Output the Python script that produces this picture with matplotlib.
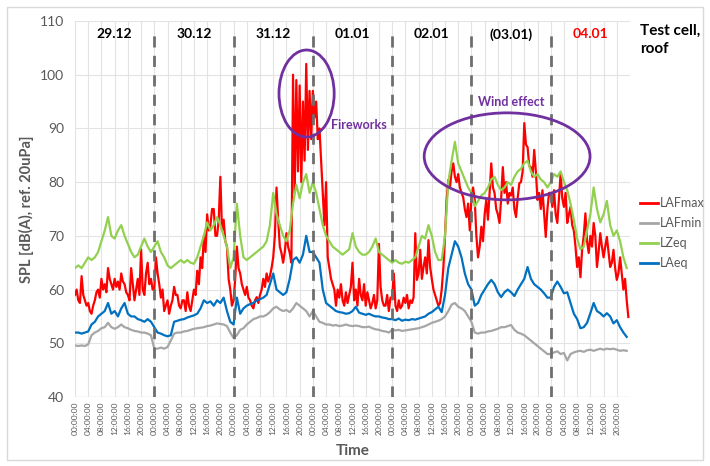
import numpy as np
import matplotlib
matplotlib.use("Agg")
import matplotlib.pyplot as plt
from matplotlib.patches import Ellipse, Rectangle
from matplotlib.lines import Line2D

plt.rcParams['font.family'] = ['Lato', 'DejaVu Sans']

# ---------------- data ----------------
days = ["29.12", "30.12", "31.12", "01.01", "02.01", "(03.01)", "04.01"]
tick_labels = ["00:00:00", "04:00:00", "08:00:00", "12:00:00", "16:00:00", "20:00:00"] * 7
series_names = ["LAFmax", "LAFmin", "LZeq", "LAeq"]

# LAFmax, 30-minute values (48 per day)
lafmax_d1 = [59, 60, 58, 57.5, 62.5, 59, 58, 57, 57.5, 56, 55.5, 57, 58, 59.5, 60, 58.5, 62, 60, 61, 59.5,
             64, 62, 61, 60, 62, 60.5, 61.5, 60, 63, 61.5, 61, 59.5, 59, 58, 64, 61, 58, 60, 62, 59,
             67.5, 60, 59, 63, 65, 61, 62, 60]
lafmax_d2 = [60, 66, 63, 61, 58.5, 60, 56, 57, 58, 55.5, 57, 58, 60.5, 59, 59, 57, 56.5, 58, 58, 56,
             59.5, 57, 56, 58, 60, 59, 63.5, 61, 66, 64, 70, 67, 74, 71, 72, 75, 75, 70, 70, 73,
             81, 71, 73, 69, 68, 62, 60, 57]
lafmax_d3 = [58, 62, 68, 64, 63, 61, 60, 59, 60.5, 58.5, 58, 57, 56.5, 58, 58.6, 57.5, 59, 60, 62, 60.5,
             63, 61.5, 62.5, 64, 66, 70, 79, 73, 68, 66.8, 65, 67, 70.5, 68, 66.8, 65, 100, 78, 99, 82,
             98, 80, 95, 84, 102, 86, 97, 88]
lafmax_d4 = [97, 92, 95, 88, 90, 84, 78, 72, 80, 66, 64, 62, 61, 60, 57, 60, 58.5, 61, 58, 57,
             59.5, 57.5, 59, 60.5, 65, 58, 60, 57, 62, 59, 58, 61, 57, 59.5, 58, 56.5, 57.5, 59, 56.5, 58,
             68.5, 60.5, 58, 57, 57, 59, 56, 58.5]
lafmax_d5 = [58.5, 63, 57, 56, 58, 56.5, 57, 58.5, 57.5, 59, 56.5, 58, 57.5, 58.6, 70.5, 61.8, 63, 67.4, 62, 64.2,
             66, 63, 69.2, 64.2, 62, 60, 59, 58, 57, 57.5, 60, 64, 70, 76.7, 80.4, 79, 82, 83.5, 81, 80,
             81.5, 79, 78, 77.2, 75, 73.5, 76, 71]
lafmax_d6 = [77, 79, 76.7, 70, 66, 68, 71.7, 69, 74, 76.7, 73, 78, 83.5, 79, 78, 75, 74, 72.4, 77, 82.8,
             78, 80, 76, 78, 77.5, 79, 75, 73.5, 77, 79.8, 80, 82, 91, 87, 86.5, 83, 82.8, 81, 86, 82,
             76.7, 78, 75, 78.5, 74, 69.8, 75, 78]
lafmax_d7 = [78, 75.4, 78.5, 74, 72.4, 77, 81.6, 77, 75.4, 78, 72.4, 74, 75.4, 72, 71, 68, 64.2, 66, 62.3, 67.4,
             70, 74.2, 69, 66.8, 70, 68, 72.4, 70, 64.2, 67, 70.5, 68, 66, 68, 69.8, 67, 64.2, 65, 67.4, 64,
             61.8, 63, 66, 63, 60, 62, 58, 54.9]

# LAFmin, hourly
lafmin_d1 = [49.6, 49.5, 49.6, 49.5, 49.8, 51.5, 52, 52.3, 52.8, 53, 53.8, 53, 52.7, 53, 53.5, 53, 52.8, 52.5, 52.3, 52.2, 52, 52, 51.8, 51.5]
lafmin_d2 = [49, 49, 49.2, 49, 49.3, 50.5, 51.8, 52, 52, 52.2, 52.3, 52.5, 52.7, 52.8, 52.9, 53, 53.2, 53.3, 53.5, 53.7, 53.6, 53.5, 53.2, 52]
lafmin_d3 = [51, 51.5, 52.5, 52.8, 53.5, 54, 54.5, 54.7, 55, 55, 55.3, 55.8, 56.5, 56.8, 56.3, 56, 56.2, 55.8, 56.5, 57.5, 57, 56.5, 56, 55]
lafmin_d4 = [56, 55, 54, 53.8, 53.5, 53.5, 53.3, 53.4, 53.2, 53.3, 53.5, 53.3, 53.2, 53.3, 53.2, 53, 53, 53.1, 52.8, 52.6, 52.5, 52.3, 52.2, 52]
lafmin_d5 = [52.5, 52.4, 52.5, 52.3, 52.4, 52.5, 52.6, 52.7, 52.8, 53, 53.2, 53.5, 53.8, 54, 54.2, 54.5, 55, 56, 57.2, 57.5, 56.8, 56.5, 56, 55]
lafmin_d6 = [54, 52, 51.8, 52, 52, 52.2, 52.3, 52.5, 52.7, 53, 53, 53.2, 53.4, 52.5, 52, 51.8, 51.5, 51, 50.5, 50, 49.5, 49, 48.5, 48]
lafmin_d7 = [48, 48.3, 48.5, 48, 48.2, 46.8, 48, 48.3, 48.5, 48.6, 48.4, 48.7, 48.8, 48.6, 48.8, 49, 48.8, 49, 48.9, 49, 48.8, 48.6, 48.7, 48.6]

# LZeq, hourly
lzeq_d1 = [64, 64.5, 64, 65, 66, 65.5, 66, 67, 69, 71, 73.5, 70, 69.5, 71, 72, 70, 68.5, 67, 66, 66.5, 68, 69.5, 68, 67]
lzeq_d2 = [68, 69, 67, 66, 64.5, 64, 64.5, 65, 65.5, 65, 65.5, 65, 64.8, 66, 68, 70, 72.5, 71, 72, 73.5, 72, 70, 68, 64]
lzeq_d3 = [66, 76, 70, 66, 65.5, 66, 66.5, 67, 67.5, 68, 69, 72, 78, 74, 72, 70, 69, 71, 76, 79.5, 77, 80, 81.5, 78]
lzeq_d4 = [80, 78, 75, 72, 70, 69, 68, 67.5, 67, 66.5, 67, 67.5, 70.5, 68, 67, 66.5, 66.5, 67, 68, 69.5, 67, 66.5, 66, 65.5]
lzeq_d5 = [65, 65.5, 65, 64.8, 65.2, 65, 65.5, 66, 68, 70, 69.5, 72, 70, 67, 65.5, 65.5, 70, 80, 84, 87.5, 83.5, 82, 80.5, 79]
lzeq_d6 = [78, 75.5, 76.5, 77.5, 78, 79, 80.5, 81, 79.5, 78.5, 79, 80, 79.5, 81, 82, 82.5, 83.5, 84, 82, 81, 81.5, 80.5, 80, 79]
lzeq_d7 = [80, 81.5, 81, 82, 80, 78.5, 76, 73, 69.5, 67.5, 68, 71, 74, 79, 75, 72.5, 74, 76.5, 72, 70, 71, 69, 66, 64]

# LAeq, hourly
laeq_d1 = [52, 52, 51.8, 52, 52.2, 53.5, 54, 55, 55.5, 56, 57.5, 55.5, 56, 55, 56.5, 57.5, 55.5, 55, 55, 54.5, 54.3, 54, 54.5, 54]
laeq_d2 = [53, 52, 51.8, 51.5, 51.3, 51.5, 54, 54.2, 54.4, 54.5, 54.8, 55, 55.2, 55.5, 56.5, 58, 57.5, 57.8, 57, 58, 57.5, 58.5, 56, 54]
laeq_d3 = [53.5, 58.5, 55.5, 56.5, 57, 57.3, 57.5, 58, 58.2, 58.5, 59, 61, 63, 60, 59.5, 59, 59.5, 62, 65.5, 66, 65, 66.5, 70, 67]
laeq_d4 = [67, 66, 65, 60, 57.5, 57, 56.5, 56, 55.8, 55.7, 55.5, 55.6, 56, 56.8, 55.7, 55.5, 55.3, 55.5, 55.2, 55, 55, 54.8, 54.7, 54.5]
laeq_d5 = [54.5, 54.3, 54.6, 54.2, 54.4, 54.3, 54.5, 54.4, 54.6, 54.8, 55, 55.5, 55.8, 56.3, 56.8, 55.8, 59, 64, 66.5, 69, 68, 66, 63, 61]
laeq_d6 = [60, 57, 57.5, 59, 60, 61, 61.8, 61, 59.5, 58.6, 59.5, 60, 59.5, 58.8, 60, 61, 62, 64.2, 62, 61, 60.5, 60, 59.3, 58.5]
laeq_d7 = [58.5, 60.5, 61.5, 60.5, 59.3, 59.5, 57.5, 55.5, 54.5, 52.8, 53, 53.8, 55.6, 57.5, 56, 55.6, 55, 55.6, 55, 53.7, 54.3, 53, 52, 51.2]

lafmax = np.concatenate([lafmax_d1, lafmax_d2, lafmax_d3, lafmax_d4, lafmax_d5, lafmax_d6, lafmax_d7])
lafmin = np.concatenate([lafmin_d1, lafmin_d2, lafmin_d3, lafmin_d4, lafmin_d5, lafmin_d6, lafmin_d7])
lzeq = np.concatenate([lzeq_d1, lzeq_d2, lzeq_d3, lzeq_d4, lzeq_d5, lzeq_d6, lzeq_d7])
laeq = np.concatenate([laeq_d1, laeq_d2, laeq_d3, laeq_d4, laeq_d5, laeq_d6, laeq_d7])

x_half = np.arange(len(lafmax)) / 2.0
x_hour = np.arange(len(lafmin))

# ---------------- styling ----------------
C_MAX = "#FF0000"
C_MIN = "#A6A6A6"
C_Z = "#92D050"
C_A = "#0070C0"
PURPLE = "#7030A0"
TXT = "#595959"

fig = plt.figure(figsize=(7.10, 4.66), dpi=100)
ax = fig.add_axes([75 / 710, 1 - 397 / 466, 555 / 710, 376 / 466])

ax.plot(x_half, lafmax, color=C_MAX, lw=1.6, zorder=3)
ax.plot(x_hour, lafmin, color=C_MIN, lw=1.6, zorder=4)
ax.plot(x_hour, lzeq, color=C_Z, lw=1.6, zorder=5)
ax.plot(x_hour, laeq, color=C_A, lw=1.6, zorder=6)

ax.set_xlim(0, 168)
ax.set_ylim(40, 110)
ax.set_yticks(np.arange(40, 111, 10))
ax.set_xticks(np.arange(0, 168, 4))
ax.set_xticklabels(tick_labels, rotation=90, fontsize=6, color=TXT)
ax.tick_params(axis='y', labelsize=10, colors=TXT, length=0, pad=8)
ax.tick_params(axis='x', length=0, pad=3)
ax.grid(True, color="#E3E3E3", lw=0.8, zorder=0)
for s in ax.spines.values():
    s.set_visible(False)
ax.axhline(40, color="#D0D0D0", lw=0.9, zorder=1)

# day boundaries
for d in range(1, 7):
    ax.plot([24 * d, 24 * d], [40, 108.5], color="#6E6E6E", lw=2, ls=(0, (4, 3)), zorder=7)

# day labels
for i, lab in enumerate(days):
    ax.text(24 * i + 12, 107.5, lab, ha='center', va='center', fontsize=10, fontweight='bold',
            color="#FF0000" if i == 6 else "black", zorder=8)

# annotations
ax.add_patch(Ellipse((70.1, 96.5), 16.7, 16.2, fill=False, edgecolor=PURPLE, lw=2, zorder=9))
ax.text(77.5, 90.6, "Fireworks", color=PURPLE, fontsize=9, fontweight='bold', ha='left', va='center', zorder=9)
ax.add_patch(Ellipse((130.8, 84.8), 50.2, 16.2, fill=False, edgecolor=PURPLE, lw=2, zorder=9))
ax.text(132.2, 95.0, "Wind effect", color=PURPLE, fontsize=9, fontweight='bold', ha='center', va='center', zorder=9)

ax.set_ylabel("SPL [dB(A), ref. 20uPa]", fontsize=10.5, fontweight='bold', color=TXT, labelpad=4)
ax.set_xlabel("Time", fontsize=11, fontweight='bold', color=TXT, labelpad=7)

fig.text(640 / 710, 1 - 24 / 466, "Test cell,\nroof", fontsize=11, fontweight='bold', ha='left', va='top',
         linespacing=1.35, color="black")

handles = [Line2D([], [], color=c, lw=2) for c in (C_MAX, C_MIN, C_Z, C_A)]
fig.legend(handles, series_names, loc='upper left', bbox_to_anchor=(640 / 710, 1 - 197 / 466),
           frameon=False, fontsize=9, labelcolor=TXT, handlelength=1.4, handletextpad=0.2,
           labelspacing=0.65, borderaxespad=0, borderpad=0)

fig.patches.append(Rectangle((7 / 710, 6 / 466), 696 / 710, 453 / 466, transform=fig.transFigure,
                             fill=False, edgecolor="#D9D9D9", lw=1))

fig.savefig("out.png", dpi=100)
